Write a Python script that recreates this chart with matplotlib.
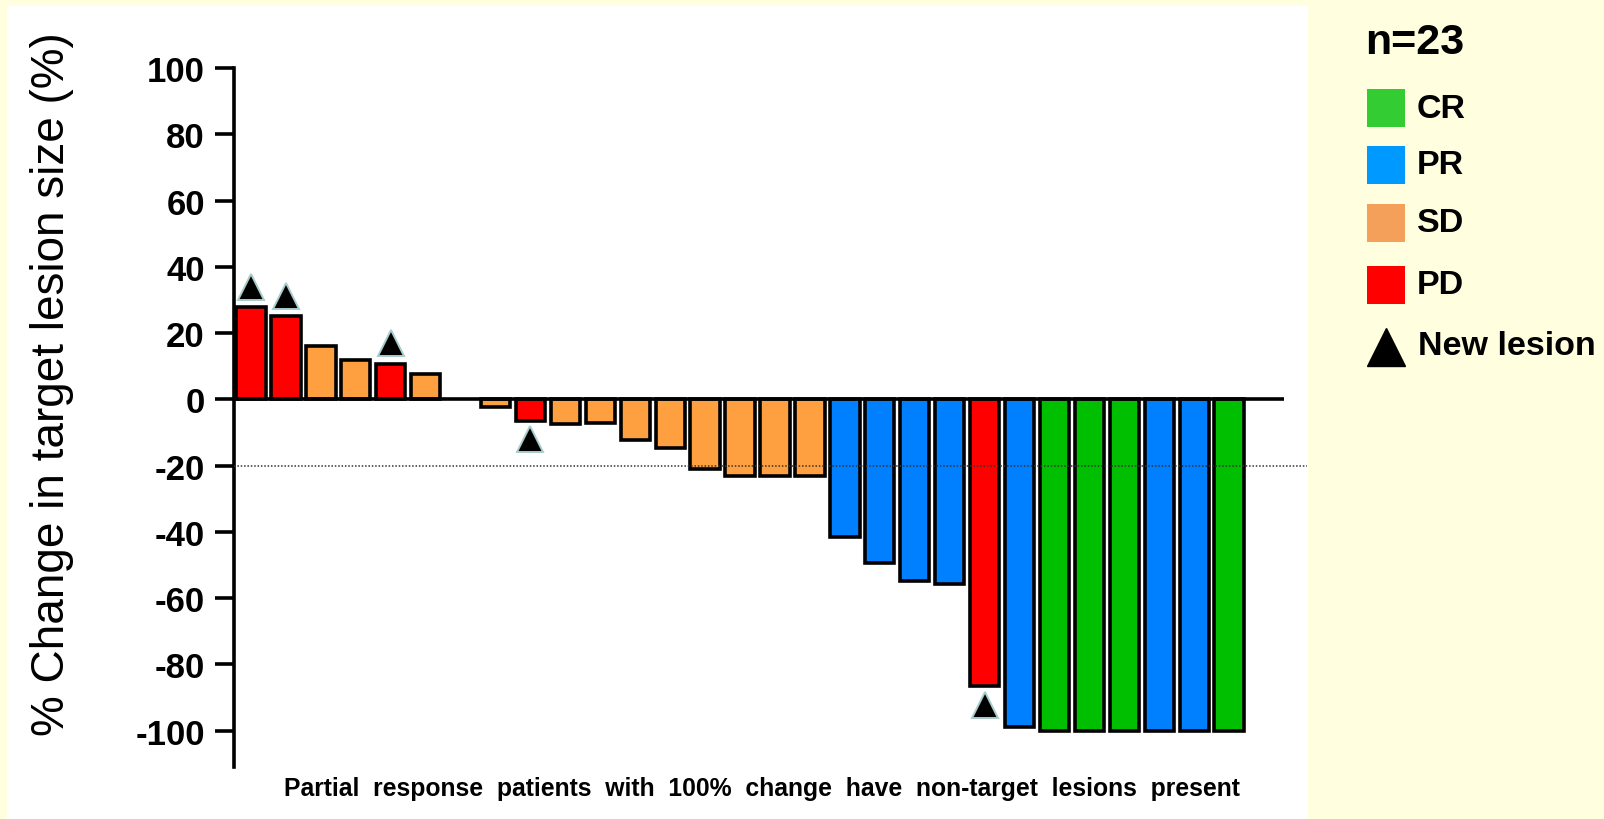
import matplotlib
matplotlib.use("Agg")
import matplotlib.pyplot as plt
from matplotlib.patches import Rectangle
from matplotlib.lines import Line2D

plt.rcParams["font.family"] = ["Liberation Sans", "DejaVu Sans"]
plt.rcParams["axes.unicode_minus"] = False

# best % change in target lesion size, one entry per bar slot (slot 6 is empty)
changes = [27.8, 25.0, 16.0, 11.8, 10.8, 7.6, None,
           -2.4, -6.5, -7.5, -7.3, -12.4, -14.6, -21.1, -23.2, -23.2, -23.2,
           -41.5, -49.4, -54.8, -55.7, -86.6, -99.0,
           -100, -100, -100, -100, -100, -100]
response = ["PD", "PD", "SD", "SD", "PD", "SD", None,
            "SD", "PD", "SD", "SD", "SD", "SD", "SD", "SD", "SD", "SD",
            "PR", "PR", "PR", "PR", "PD", "PR",
            "CR", "CR", "CR", "PR", "PR", "CR"]
new_lesion = [1, 1, 0, 0, 1, 0, 0,
              0, 1, 0, 0, 0, 0, 0, 0, 0, 0,
              0, 0, 0, 0, 1, 0,
              0, 0, 0, 0, 0, 0]
yticks = [100, 80, 60, 40, 20, 0, -20, -40, -60, -80, -100]
legend_labels = ["CR", "PR", "SD", "PD"]

bar_colors = {"CR": "#00BF00", "PR": "#0080FF", "SD": "#FFA040", "PD": "#FF0000"}
legend_colors = {"CR": "#33CC33", "PR": "#0099FF", "SD": "#F5A05A", "PD": "#FF0000"}

W, H = 1604, 820
fig = plt.figure(figsize=(W / 100, H / 100), dpi=100, facecolor="#FFFFE0")

def fx(px):
    return px / W

def fy(py):
    return 1 - py / H

# white slide panel behind the chart
fig.add_artist(Rectangle((fx(7), 0), fx(1308 - 7), fy(7), transform=fig.transFigure,
                         facecolor="white", edgecolor="none", zorder=0))

ax = fig.add_axes([fx(234), fy(768), fx(1284 - 234), (768 - 69) / H])
ax.set_facecolor("none")

for i, (v, r) in enumerate(zip(changes, response)):
    if v is None:
        continue
    ax.bar(i, v, width=0.84, color=bar_colors[r], edgecolor="black", linewidth=2.6, zorder=3)
    if new_lesion[i]:
        ym = v + 6.2 if v > 0 else v - 5.6
        ax.plot(i, ym, marker="^", ms=19, color="black", mec="#a9cccc", mew=1.4,
                clip_on=False, zorder=4)

ax.axhline(0, color="black", lw=2.6, zorder=4)
ax.axhline(-20, xmin=0, xmax=(1307 - 234) / (1284 - 234), color="#333333", lw=1.1,
           ls=(0, (1, 1.2)), clip_on=False, zorder=5)

ax.set_xlim(-0.487, 29.57)
ax.set_ylim(-111, 100)
ax.set_yticks(yticks)
ax.set_xticks([])
for side in ["top", "right", "bottom"]:
    ax.spines[side].set_visible(False)
ax.spines["left"].set_linewidth(2.6)
ax.spines["left"].set_bounds(-111, 100)
ax.tick_params(axis="y", length=14, width=2.6, pad=7, labelsize=25)
for lab in ax.get_yticklabels():
    lab.set_fontweight("bold")

fig.text(fx(52), fy(384), "% Change in target lesion size (%)", rotation=90,
         ha="center", va="center", fontsize=33)

fig.text(fx(762), fy(789), "Partial  response  patients  with  100%  change  have  non-target  lesions  present",
         ha="center", va="center", fontsize=17.8, fontweight="bold")

# legend on the right
fig.text(fx(1365), fy(43), "n=23", ha="left", va="center", fontsize=31, fontweight="bold")
sq_tops = [90, 147, 205, 267]
for lab, top in zip(legend_labels, sq_tops):
    fig.add_artist(Rectangle((fx(1367), fy(top + 38)), fx(38), 38 / H, transform=fig.transFigure,
                             facecolor=legend_colors[lab], edgecolor="none"))
    fig.text(fx(1417), fy(top + 19), lab, ha="left", va="center", fontsize=24.5, fontweight="bold")
fig.add_artist(Line2D([fx(1386)], [fy(348)], marker="^", ms=28, color="black",
                      transform=fig.transFigure))
fig.text(fx(1418), fy(347), "New lesion", ha="left", va="center", fontsize=24.5, fontweight="bold")

fig.savefig("out.png", dpi=100, facecolor=fig.get_facecolor())
